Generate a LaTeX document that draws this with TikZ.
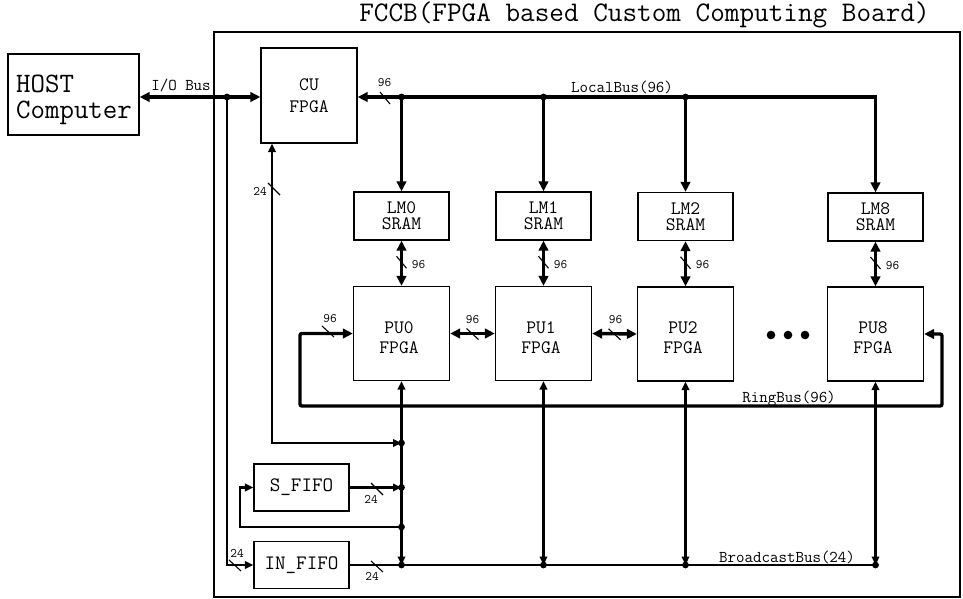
\documentclass[tikz,border=0pt]{standalone}
\usepackage{fontspec}
\usetikzlibrary{arrows.meta,calc}
\begin{document}
\begin{tikzpicture}[x=1pt,y=-1pt,
  box/.style={draw,line width=1.3pt,inner sep=0pt,align=center},
  boxfont/.style={font=\ttfamily\fontsize{19}{#1}\selectfont},
  lmbox/.style={box,minimum width=95pt,minimum height=48pt,boxfont=16},
  pubox/.style={box,minimum width=96pt,minimum height=94pt},
  putext/.style={align=center,inner sep=0pt,boxfont=20},
  fifobox/.style={box,minimum width=95pt,minimum height=47pt,font=\ttfamily\fontsize{20.5}{22}\selectfont},
  bigbus/.style={line width=3.4pt,>={Triangle[length=10pt,width=9.5pt]}},
  smallbus/.style={line width=2.3pt,>={Triangle[length=8.5pt,width=7.5pt]}},
  slashmark/.style={line width=1.1pt},
  numlbl/.style={anchor=base,inner sep=0pt,font=\ttfamily\fontsize{13}{13}\selectfont},
  buslbl/.style={anchor=base,inner sep=0pt,font=\ttfamily\fontsize{16.5}{17}\selectfont}]
\useasboundingbox (0,0) rectangle (963,599);

% title and board
\node[anchor=base,inner sep=0pt,font=\ttfamily\fontsize{28.4}{30}\selectfont] (title) at (644.5,22) {FCCB(FPGA based Custom Computing Board)};
\node[draw,line width=1.2pt,minimum width=746pt,minimum height=565pt,inner sep=0pt] (board) at (587,314.5) {};

% boxes
\node[box,minimum width=131pt,minimum height=81pt] (host) at (73.5,94.5) {};
\node[align=left,inner sep=0pt,font=\ttfamily\fontsize{28.1}{26}\selectfont] (hosttext) at (74,100) {HOST\\Computer};
\node[box,minimum width=96pt,minimum height=95pt,boxfont=22] (cu) at (309,95.5) {CU\\FPGA};

\node[lmbox] (lm0) at (401.5,216) {LM0\\SRAM};
\node[lmbox] (lm1) at (543.5,216) {LM1\\SRAM};
\node[lmbox] (lm2) at (685.5,216.5) {LM2\\SRAM};
\node[lmbox] (lm8) at (875.5,217) {LM8\\SRAM};

\node[pubox] (pu0) at (401.5,333.5) {};
\node[pubox] (pu1) at (543.5,333.5) {};
\node[pubox] (pu2) at (685.5,334) {};
\node[pubox] (pu8) at (875.5,334) {};
\node[putext] (pu0t) at (399,338) {PU0\\FPGA};
\node[putext] (pu1t) at (541,338) {PU1\\FPGA};
\node[putext] (pu2t) at (683,338) {PU2\\FPGA};
\node[putext] (pu8t) at (873,338) {PU8\\FPGA};

\node[fifobox] (sfifo) at (301.5,487.5) {S\_FIFO};
\node[fifobox] (infifo) at (301.5,565) {IN\_FIFO};

% dots between PU2 and PU8
\fill (771,335) circle (4.3pt) (788,335) circle (4.3pt) (805,335) circle (4.3pt);

% I/O bus
\coordinate (iojn) at (227,97);
\draw[bigbus,<->] (host.east |- iojn) -- (cu.west |- iojn);
\draw[smallbus,->] (iojn) |- (infifo.west);
\node[buslbl] (iolbl) at (181,91) {I/O Bus};

% Local bus
\coordinate (lb0) at (lm0.north |- iojn);
\coordinate (lb1) at (lm1.north |- iojn);
\coordinate (lb2) at (lm2.north |- iojn);
\coordinate (lb8) at (lm8.north |- iojn);
\draw[bigbus,<->] (cu.east |- iojn) -- (lb8) -- (lm8.north);
\draw[bigbus,->] (lb0) -- (lm0.north);
\draw[bigbus,->] (lb1) -- (lm1.north);
\draw[bigbus,->] (lb2) -- (lm2.north);
\node[buslbl] (lblbl) at (622,93) {LocalBus(96)};
\draw[slashmark] (385,98) ++(-5,-6) -- ++(10,12);
\node[numlbl] (lbn) at (384.5,87) {96};

% LM - PU
\foreach \i in {0,1,2,8}{
  \draw[bigbus,<->] (lm\i.south) -- (pu\i.north);
  \draw[slashmark] ($(lm\i.south)!0.5!(pu\i.north)+(0,-1)$) ++(-5,-6) -- ++(10,12);
  \node[numlbl] (lpn\i) at ($(lm\i.south)!0.5!(pu\i.north)+(17,5)$) {96};
}

% PU - PU
\draw[bigbus,<->] (pu0.east) -- (pu1.west);
\draw[bigbus,<->] (pu1.east) -- (pu2.west);
\draw[slashmark] ($(pu0.east)!0.5!(pu1.west)$) ++(-6,-5) -- ++(12,11);
\draw[slashmark] ($(pu1.east)!0.5!(pu2.west)$) ++(-6,-5) -- ++(12,11);
\node[numlbl] (ppn1) at ($(pu0.east)!0.5!(pu1.west)+(0,-10)$) {96};
\node[numlbl] (ppn2) at ($(pu1.east)!0.5!(pu2.west)+(1,-10)$) {96};

% Ring bus
\coordinate (rl) at (300,406);
\coordinate (rr) at (942,406);
\draw[bigbus,<->,rounded corners=2pt] (pu0.west) -| (rl) -- (rr) |- (pu8.east);
\draw[slashmark] (328,332) ++(-6,-6) -- ++(12,11);
\node[numlbl] (rbn) at (330,322) {96};
\node[buslbl] (rblbl) at (789,402) {RingBus(96)};

% Broadcast bus
\coordinate (bb0) at (pu0.south |- infifo.east);
\coordinate (bb1) at (pu1.south |- infifo.east);
\coordinate (bb2) at (pu2.south |- infifo.east);
\coordinate (bb8) at (pu8.south |- infifo.east);
\draw[smallbus] (infifo.east) -- (bb8);
\foreach \i in {0,1,2,8}{
  \draw[smallbus,<->] (pu\i.south) -- (bb\i);
}
\node[buslbl] (bblbl) at (787,562) {BroadcastBus(24)};
\draw[slashmark] (377,567) ++(-6,-6) -- ++(12,11);
\node[numlbl] (ifon) at (372,580) {24};
\draw[slashmark] (235,566) ++(-6,-6) -- ++(12,11);
\node[numlbl] (ifin) at (237,557) {24};

% CU down line
\coordinate (j1) at (pu0.south |- 0,443);
\draw[smallbus,<->] ([xshift=-37pt]cu.south) |- (j1);
\draw[slashmark] (274,189) ++(-6,-6) -- ++(12,12);
\node[numlbl] (cun) at (260,195) {24};

% S_FIFO
\coordinate (j2) at (pu0.south |- sfifo.east);
\coordinate (j3) at (pu0.south |- 0,527);
\coordinate (lp) at (240,527);
\draw[smallbus,->] (sfifo.east) -- (j2);
\draw[smallbus,->] (j3) -- (lp) |- (sfifo.west);
\draw[slashmark] (377,489) ++(-6,-6) -- ++(12,12);
\node[numlbl] (sfn) at (371,503) {24};

% junction dots
\foreach \p in {iojn,lb0,lb1,lb2,j1,j2,j3,bb0,bb1,bb2,bb8}{
  \fill (\p) circle (3.4pt);
}
\end{tikzpicture}
\end{document}
